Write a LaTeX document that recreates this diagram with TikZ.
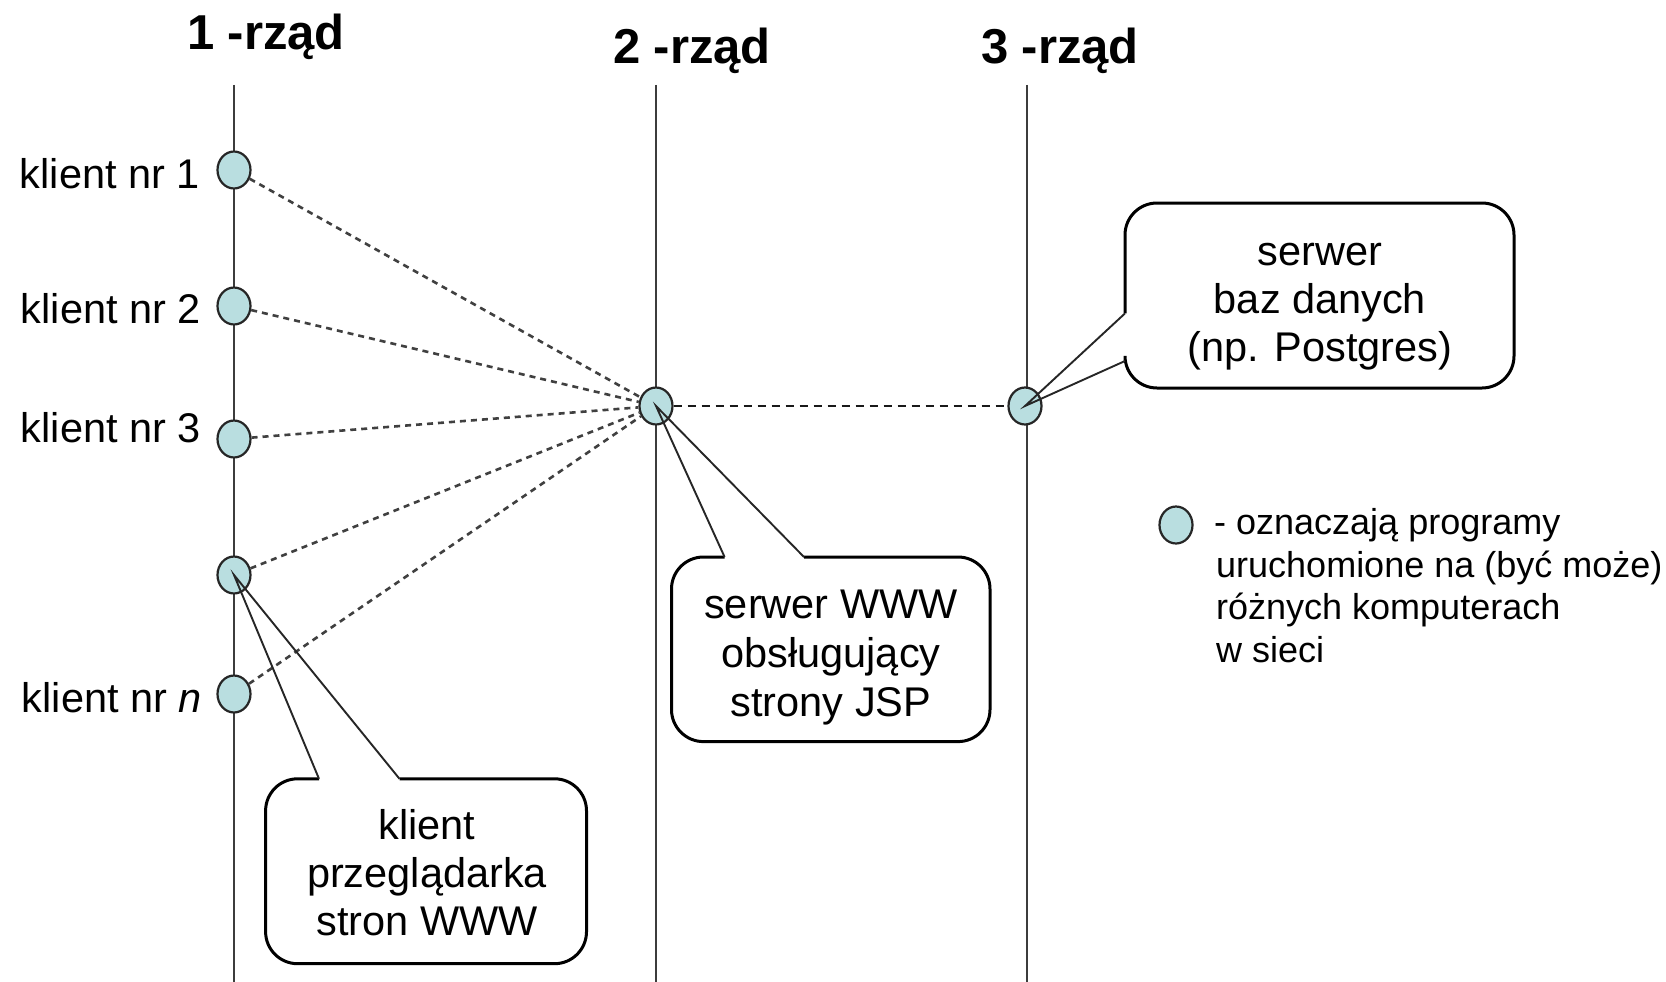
\documentclass[tikz,border=0pt]{standalone}
\usepackage{fontspec}
\setmainfont{Liberation Sans}
\usetikzlibrary{shapes.geometric}
\definecolor{dotfill}{RGB}{185,222,224}
\definecolor{axisgray}{RGB}{60,60,60}
\begin{document}
\begin{tikzpicture}[x=1pt,y=-1pt,
  prog/.style={ellipse, draw=black!85, line width=2.2pt, fill=dotfill, minimum width=33pt, minimum height=37pt, inner sep=0pt},
  tier/.style={draw=axisgray, line width=2.8pt},
  link/.style={draw=black!75, line width=2.6pt, dash pattern=on 6pt off 5pt},
  lbl/.style={font=\fontsize{41.5}{49}\selectfont, inner sep=0pt},
  head/.style={font=\fontsize{49}{55}\selectfont\bfseries, anchor=base, inner sep=0pt},
  leg/.style={font=\fontsize{36}{42}\selectfont, anchor=base west, inner sep=0pt},
  outline/.style={draw=black, line width=3pt, rounded corners=32pt},
  tail/.style={draw=black!85, line width=1.9pt},
]
\useasboundingbox[fill=white] (0,0) rectangle (1666,982);

% tier lines
\coordinate (l1t) at (234,85);  \coordinate (l1b) at (234,982);
\coordinate (l2t) at (656,85);  \coordinate (l2b) at (656,982);
\coordinate (l3t) at (1027,85); \coordinate (l3b) at (1027,982);
\draw[tier] (l1t) -- (l1b);
\draw[tier] (l2t) -- (l2b);
\draw[tier] (l3t) -- (l3b);

% headers
\node[head] (h1) at (266,50) {1 -rząd};
\node[head] (h2) at (692,64) {2 -rząd};
\node[head] (h3) at (1060,64) {3 -rząd};

% program nodes
\node[prog] (c1) at (234,170) {};
\node[prog] (c2) at (234,306) {};
\node[prog] (c3) at (234,439) {};
\node[prog] (c4) at (234,575) {};
\node[prog] (cn) at (234,694) {};
\node[prog] (www) at (656,406) {};
\node[prog] (db) at (1025,406) {};

% client labels
\node[lbl, anchor=base east] (k1) at (200,188) {klient nr 1};
\node[lbl, anchor=base east] (k2) at (201,323) {klient nr 2};
\node[lbl, anchor=base east] (k3) at (201,442) {klient nr 3};
\node[lbl, anchor=base east] (kn) at (202,712) {klient nr \textit{n}};

% dashed links
\draw[link] (c1) -- (www);
\draw[link] (c2) -- (www);
\draw[link] (c3) -- (www);
\draw[link] (c4) -- (www);
\draw[link] (cn) -- (www);
\draw[link, draw=black!90, line width=2.2pt, dash pattern=on 8pt off 6pt] (www) -- (db);

% callout 1: klient przegladarka
\coordinate (b1nw) at (265.6,778.8); \coordinate (b1se) at (586.5,963.7);
\coordinate (t1a) at (319,778.8); \coordinate (t1b) at (399.5,778.8);
\draw[outline] (t1b) -- (b1se |- b1nw) -- (b1se) -- (b1nw |- b1se) -- (b1nw) -- (t1a);
\draw[tail] (t1a) -- (c4.center) -- (t1b);
\node[lbl, anchor=base] (b1l1) at (427,839) {klient};
\node[lbl, anchor=base] (b1l2) at (427,887) {przeglądarka};
\node[lbl, anchor=base] (b1l3) at (427,935) {stron WWW};

% callout 2: serwer WWW
\coordinate (b2nw) at (671.5,557); \coordinate (b2se) at (990,741.6);
\coordinate (t2a) at (724.6,557); \coordinate (t2b) at (804,557);
\draw[outline] (t2b) -- (b2se |- b2nw) -- (b2se) -- (b2nw |- b2se) -- (b2nw) -- (t2a);
\draw[tail] (t2a) -- (www.center) -- (t2b);
\node[lbl, anchor=base] (b2l1) at (831,618) {serwer WWW};
\node[lbl, anchor=base] (b2l2) at (831,667) {obsługujący};
\node[lbl, anchor=base] (b2l3) at (831,716) {strony JSP};

% callout 3: serwer baz danych
\coordinate (b3nw) at (1125,203); \coordinate (b3se) at (1514,388);
\coordinate (t3a) at (1125,313.4); \coordinate (t3b) at (1125,361);
\draw[outline] (t3a) -- (b3nw) -- (b3se |- b3nw) -- (b3se) -- (b3nw |- b3se) -- (t3b);
\draw[tail] (t3a) -- (db.center) -- (t3b);
\node[lbl, anchor=base] (b3l1) at (1320,265) {serwer};
\node[lbl, anchor=base] (b3l2) at (1320,313) {baz danych};
\node[lbl, anchor=base] (b3l3) at (1320,361) {(np. Postgres)};

% legend
\node[prog] (legc) at (1176,525) {};
\node[leg] (lg1) at (1214,534) {- oznaczają programy};
\node[leg] (lg2) at (1216,577) {uruchomione na (być może)};
\node[leg] (lg3) at (1216,619) {różnych komputerach};
\node[leg] (lg4) at (1216,662) {w sieci};
\end{tikzpicture}
\end{document}
